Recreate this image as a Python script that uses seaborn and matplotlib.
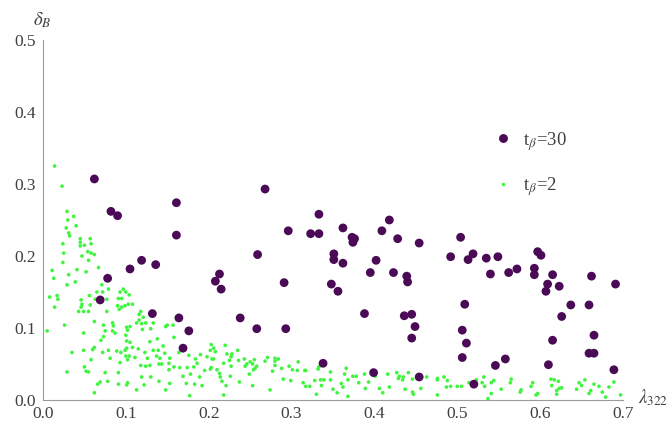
import matplotlib
matplotlib.use("Agg")
import matplotlib.pyplot as plt
import seaborn as sns
import pandas as pd
from matplotlib.lines import Line2D

# ---- data ----
tb30_x = [0.062, 0.082, 0.090, 0.161, 0.161, 0.105, 0.119, 0.136, 0.078, 0.069,
          0.132, 0.164, 0.176, 0.169, 0.208, 0.213, 0.215, 0.238,
          0.268, 0.333, 0.296, 0.323, 0.333, 0.362, 0.373, 0.376, 0.374,
          0.418, 0.409, 0.428, 0.454, 0.259, 0.351, 0.351, 0.362, 0.402,
          0.395, 0.423, 0.439, 0.440, 0.291, 0.348, 0.356, 0.492, 0.258, 0.293,
          0.388, 0.436, 0.445, 0.449, 0.445, 0.338, 0.399, 0.454,
          0.504, 0.513, 0.519, 0.535, 0.549, 0.540, 0.562, 0.572,
          0.597, 0.601, 0.593, 0.593, 0.615, 0.609, 0.607, 0.623,
          0.662, 0.691, 0.509, 0.637, 0.659, 0.626, 0.506, 0.511, 0.506,
          0.615, 0.665, 0.659, 0.665, 0.558, 0.546, 0.610, 0.689, 0.520]
tb30_y = [0.307, 0.262, 0.256, 0.274, 0.229, 0.182, 0.194, 0.188, 0.169, 0.139,
          0.120, 0.114, 0.096, 0.072, 0.165, 0.175, 0.154, 0.114,
          0.293, 0.258, 0.235, 0.231, 0.231, 0.239, 0.226, 0.224, 0.219,
          0.250, 0.235, 0.224, 0.218, 0.202, 0.203, 0.195, 0.190, 0.194,
          0.177, 0.177, 0.172, 0.164, 0.163, 0.161, 0.151, 0.199, 0.099, 0.099,
          0.120, 0.117, 0.119, 0.102, 0.086, 0.051, 0.038, 0.032,
          0.226, 0.195, 0.203, 0.197, 0.199, 0.175, 0.177, 0.182,
          0.206, 0.201, 0.183, 0.174, 0.174, 0.161, 0.151, 0.158,
          0.172, 0.161, 0.133, 0.132, 0.132, 0.116, 0.097, 0.079, 0.059,
          0.083, 0.090, 0.065, 0.065, 0.057, 0.048, 0.049, 0.042, 0.022]

tb2_x = [0.014, 0.023, 0.029, 0.037, 0.030, 0.040, 0.028, 0.031, 0.032, 0.045,
         0.057, 0.024, 0.045, 0.058, 0.050, 0.045, 0.025, 0.054, 0.058, 0.062,
         0.047, 0.055, 0.024, 0.067, 0.011, 0.041, 0.052, 0.031, 0.013, 0.078,
         0.039, 0.029, 0.079, 0.071, 0.065, 0.072, 0.093, 0.097, 0.100, 0.008,
         0.017, 0.018, 0.046, 0.056, 0.063, 0.077, 0.091, 0.095, 0.047, 0.014,
         0.046, 0.057, 0.090, 0.095, 0.099, 0.043, 0.049, 0.055, 0.077, 0.092,
         0.062, 0.073, 0.084, 0.085, 0.026, 0.005, 0.075, 0.084, 0.101, 0.049,
         0.073, 0.070, 0.087, 0.100, 0.101, 0.101, 0.062, 0.060, 0.049, 0.072,
         0.079, 0.089, 0.094, 0.100, 0.035, 0.058, 0.081, 0.093, 0.050, 0.052,
         0.055, 0.029, 0.075, 0.091, 0.066, 0.069, 0.078, 0.091, 0.102, 0.062,
         0.104, 0.103, 0.108, 0.118, 0.116, 0.121, 0.116, 0.113, 0.119, 0.124,
         0.102, 0.105, 0.120, 0.130, 0.133, 0.148, 0.150, 0.157, 0.158, 0.138,
         0.129, 0.105, 0.108, 0.115, 0.099, 0.139, 0.145, 0.123, 0.133, 0.147,
         0.104, 0.137, 0.141, 0.126, 0.153, 0.164, 0.176, 0.184, 0.190, 0.198,
         0.206, 0.202, 0.111, 0.102, 0.118, 0.124, 0.129, 0.140, 0.143, 0.152,
         0.158, 0.165, 0.174, 0.182, 0.186, 0.203, 0.152, 0.195, 0.119, 0.130,
         0.169, 0.178, 0.189, 0.101, 0.122, 0.140, 0.153, 0.173, 0.183, 0.192,
         0.113, 0.148, 0.177,
         0.203, 0.206, 0.208, 0.220, 0.222, 0.227, 0.228, 0.235, 0.225, 0.218,
         0.204, 0.236, 0.243, 0.246, 0.250, 0.255, 0.253, 0.244, 0.258, 0.227,
         0.202, 0.210, 0.213, 0.214, 0.226, 0.249, 0.254, 0.256, 0.268, 0.271,
         0.280, 0.284, 0.280, 0.288, 0.280, 0.277, 0.297, 0.301, 0.307, 0.308,
         0.316, 0.299, 0.290, 0.237, 0.216, 0.253, 0.221, 0.314, 0.317, 0.274,
         0.218,
         0.317, 0.332, 0.333, 0.347, 0.366, 0.364, 0.374, 0.378, 0.388, 0.401,
         0.416, 0.427, 0.430, 0.435, 0.441, 0.446, 0.463, 0.476, 0.484, 0.488,
         0.328, 0.335, 0.339, 0.347, 0.336, 0.322, 0.360, 0.368, 0.381, 0.393,
         0.406, 0.410, 0.418, 0.429, 0.434, 0.437, 0.446, 0.447, 0.456, 0.476,
         0.487, 0.492, 0.500, 0.505, 0.350, 0.355, 0.362, 0.330, 0.368, 0.476,
         0.389,
         0.514, 0.523, 0.532, 0.530, 0.533, 0.541, 0.544, 0.553, 0.541, 0.537,
         0.565, 0.564, 0.576, 0.577, 0.591, 0.589, 0.597, 0.595, 0.613, 0.617,
         0.622, 0.614, 0.623, 0.620, 0.626, 0.620, 0.644, 0.647, 0.650, 0.654,
         0.659, 0.661, 0.665, 0.671, 0.675, 0.679, 0.683, 0.689, 0.697]
tb2_y = [0.325, 0.297, 0.262, 0.255, 0.250, 0.242, 0.239, 0.232, 0.228, 0.224,
         0.224, 0.217, 0.219, 0.217, 0.215, 0.214, 0.204, 0.206, 0.204, 0.202,
         0.200, 0.194, 0.191, 0.184, 0.180, 0.181, 0.178, 0.174, 0.169, 0.173,
         0.164, 0.160, 0.154, 0.160, 0.150, 0.150, 0.150, 0.154, 0.150, 0.143,
         0.145, 0.140, 0.139, 0.145, 0.140, 0.140, 0.141, 0.141, 0.133, 0.129,
         0.129, 0.132, 0.131, 0.129, 0.131, 0.123, 0.123, 0.123, 0.123, 0.126,
         0.109, 0.104, 0.107, 0.103, 0.104, 0.096, 0.096, 0.096, 0.101, 0.093,
         0.088, 0.083, 0.093, 0.090, 0.082, 0.072, 0.073, 0.070, 0.069, 0.066,
         0.069, 0.068, 0.066, 0.061, 0.066, 0.056, 0.058, 0.052, 0.046, 0.040,
         0.039, 0.039, 0.038, 0.038, 0.022, 0.025, 0.026, 0.022, 0.024, 0.010,
         0.146, 0.133, 0.133, 0.123, 0.119, 0.115, 0.111, 0.107, 0.106, 0.107,
         0.097, 0.102, 0.098, 0.099, 0.107, 0.102, 0.104, 0.104, 0.087, 0.085,
         0.081, 0.080, 0.073, 0.071, 0.069, 0.069, 0.075, 0.066, 0.069, 0.065,
         0.061, 0.061, 0.058, 0.058, 0.058, 0.066, 0.062, 0.057, 0.063, 0.060,
         0.057, 0.069, 0.059, 0.056, 0.048, 0.047, 0.048, 0.050, 0.050, 0.051,
         0.046, 0.045, 0.045, 0.046, 0.051, 0.045, 0.042, 0.041, 0.032, 0.032,
         0.033, 0.036, 0.032, 0.021, 0.021, 0.026, 0.023, 0.023, 0.022, 0.020,
         0.014, 0.014, 0.006,
         0.077, 0.072, 0.067, 0.076, 0.064, 0.060, 0.064, 0.069, 0.055, 0.051,
         0.057, 0.055, 0.057, 0.050, 0.053, 0.056, 0.050, 0.047, 0.047, 0.047,
         0.043, 0.042, 0.037, 0.032, 0.033, 0.036, 0.042, 0.044, 0.054, 0.059,
         0.058, 0.057, 0.054, 0.044, 0.048, 0.040, 0.047, 0.042, 0.041, 0.053,
         0.041, 0.027, 0.029, 0.025, 0.026, 0.020, 0.020, 0.024, 0.019, 0.014,
         0.007,
         0.041, 0.043, 0.046, 0.039, 0.044, 0.036, 0.033, 0.033, 0.036, 0.033,
         0.036, 0.038, 0.033, 0.032, 0.038, 0.029, 0.032, 0.030, 0.032, 0.027,
         0.027, 0.028, 0.028, 0.028, 0.020, 0.019, 0.023, 0.028, 0.024, 0.025,
         0.016, 0.010, 0.018, 0.030, 0.028, 0.015, 0.011, 0.008, 0.016, 0.028,
         0.018, 0.019, 0.019, 0.019, 0.015, 0.010, 0.018, 0.008, 0.005, 0.007,
         0.016,
         0.024, 0.028, 0.032, 0.024, 0.019, 0.024, 0.027, 0.015, 0.009, 0.002,
         0.029, 0.024, 0.011, 0.014, 0.024, 0.019, 0.009, 0.007, 0.029, 0.028,
         0.026, 0.020, 0.016, 0.013, 0.017, 0.008, 0.015, 0.024, 0.020, 0.028,
         0.009, 0.013, 0.022, 0.019, 0.011, 0.004, 0.018, 0.025, 0.007]

series_labels = [r"t$_\beta$=30", r"t$_\beta$=2"]
x_ticks = [0.0, 0.1, 0.2, 0.3, 0.4, 0.5, 0.6, 0.7]
y_ticks = [0.0, 0.1, 0.2, 0.3, 0.4, 0.5]
x_tick_labels = ["0.0", "0.1", "0.2", "0.3", "0.4", "0.5", "0.6", "0.7"]
y_tick_labels = ["0.0", "0.1", "0.2", "0.3", "0.4", "0.5"]

PURPLE = "#4a0a55"
GREEN = "#3ff53f"
AXIS = "#9a9a9a"
TXT = "#404040"

sns.set_style("white")
plt.rcParams["font.family"] = ["Liberation Serif", "DejaVu Serif"]
plt.rcParams["mathtext.fontset"] = "stix"

df30 = pd.DataFrame({"x": tb30_x, "y": tb30_y})
df2 = pd.DataFrame({"x": tb2_x, "y": tb2_y})

fig = plt.figure(figsize=(6.72, 4.24), dpi=100)
ax = fig.add_axes([43 / 672, 24 / 424, 580 / 672, 360 / 424])

sns.scatterplot(data=df2, x="x", y="y", ax=ax, color=GREEN, s=7,
                edgecolor="none", linewidth=0, clip_on=False, zorder=3)
sns.scatterplot(data=df30, x="x", y="y", ax=ax, color=PURPLE, s=40,
                edgecolor="none", linewidth=0, clip_on=False, zorder=4)

ax.set_xlim(0, 0.7)
ax.set_ylim(0, 0.5)
ax.set_xlabel("")
ax.set_ylabel("")

for side in ["top", "right"]:
    ax.spines[side].set_visible(False)
for side in ["left", "bottom"]:
    ax.spines[side].set_color(AXIS)
    ax.spines[side].set_linewidth(0.8)

ax.set_xticks(x_ticks)
ax.set_xticklabels(x_tick_labels)
ax.set_yticks(y_ticks)
ax.set_yticklabels(y_tick_labels)
ax.set_xticks([v / 50 for v in range(0, 36) if v % 5 != 0], minor=True)
ax.set_yticks([v / 50 for v in range(0, 26) if v % 5 != 0], minor=True)
ax.tick_params(which="both", direction="in", color=AXIS, width=0.7,
               labelcolor=TXT, labelsize=12.5)
ax.tick_params(which="major", length=3.4)
ax.tick_params(which="minor", length=2.0)
ax.tick_params(axis="y", which="major", pad=5)
ax.tick_params(axis="x", which="major", pad=4)

fig.text(42 / 672, 1 - 20 / 424, r"$\delta_B$", ha="center", va="center",
         fontsize=13.5, color=TXT)
fig.text(638 / 672, 1 - 398 / 424, r"$\lambda_{322}$", ha="left", va="center",
         fontsize=13.5, color=TXT)

handles = [Line2D([], [], ls="none", marker="o", ms=6.4, color=PURPLE, mec="none"),
           Line2D([], [], ls="none", marker="o", ms=2.6, color=GREEN, mec="none")]
leg = ax.legend(handles, series_labels, loc="center left",
                bbox_to_anchor=(493.6 / 672, 1 - 164 / 424),
                bbox_transform=fig.transFigure, frameon=False,
                fontsize=13.5, handlelength=1.0, handletextpad=0.57,
                labelspacing=1.2, borderpad=0, borderaxespad=0)
for t in leg.get_texts():
    t.set_color(TXT)

fig.savefig("out.png", dpi=100)
